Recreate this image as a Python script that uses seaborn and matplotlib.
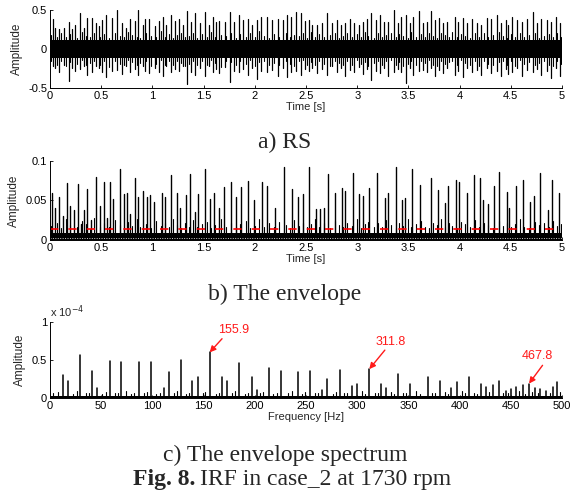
import matplotlib
matplotlib.use("Agg")
import matplotlib.pyplot as plt
import pandas as pd
import seaborn as sns

# ---------------- data ----------------
# a) RS: impulse times [s], positive peaks and negative troughs
rs_time = [0.026, 0.052, 0.088, 0.137, 0.182, 0.215, 0.241, 0.290, 0.332, 0.365,
           0.413, 0.446, 0.475, 0.511, 0.550, 0.605, 0.654, 0.703, 0.745, 0.778,
           0.827, 0.859, 0.905, 0.924, 0.964, 1.022, 1.061, 1.104, 1.136, 1.178,
           1.217, 1.257, 1.296, 1.341, 1.380, 1.419, 1.462, 1.510, 1.549, 1.592,
           1.624, 1.647, 1.706, 1.755, 1.794, 1.842, 1.885, 1.934, 1.973, 2.025,
           2.064, 2.122, 2.168, 2.227, 2.279, 2.318, 2.357, 2.406, 2.454, 2.493,
           2.529, 2.561, 2.610, 2.659, 2.708, 2.757, 2.806, 2.845, 2.877, 2.929,
           2.968, 3.017, 3.059, 3.092, 3.131, 3.180, 3.222, 3.261, 3.300, 3.359,
           3.398, 3.430, 3.473, 3.515, 3.548, 3.603, 3.645, 3.678, 3.717, 3.756,
           3.798, 3.841, 3.880, 3.951, 3.984, 4.036, 4.075, 4.124, 4.173, 4.205,
           4.264, 4.303, 4.362, 4.407, 4.449, 4.472, 4.515, 4.563, 4.612, 4.654,
           4.720, 4.759, 4.798, 4.856, 4.895, 4.938, 4.980]
rs_peak = [0.39, 0.27, 0.26, 0.27, 0.35, 0.26, 0.31, 0.46, 0.27, 0.40,
           0.40, 0.33, 0.29, 0.37, 0.44, 0.40, 0.50, 0.33, 0.27, 0.39,
           0.36, 0.50, 0.31, 0.39, 0.39, 0.29, 0.36, 0.41, 0.31, 0.44,
           0.36, 0.38, 0.31, 0.49, 0.35, 0.46, 0.33, 0.47, 0.31, 0.41,
           0.34, 0.36, 0.35, 0.48, 0.35, 0.44, 0.37, 0.39, 0.31, 0.37,
           0.41, 0.41, 0.37, 0.39, 0.37, 0.44, 0.41, 0.47, 0.46, 0.36,
           0.37, 0.31, 0.31, 0.33, 0.46, 0.33, 0.37, 0.31, 0.33, 0.39,
           0.33, 0.31, 0.35, 0.39, 0.46, 0.37, 0.44, 0.35, 0.35, 0.50,
           0.33, 0.41, 0.44, 0.33, 0.41, 0.49, 0.33, 0.35, 0.49, 0.37,
           0.40, 0.33, 0.35, 0.41, 0.35, 0.40, 0.33, 0.39, 0.33, 0.31,
           0.40, 0.38, 0.44, 0.33, 0.37, 0.31, 0.41, 0.37, 0.35, 0.39,
           0.48, 0.33, 0.39, 0.37, 0.35, 0.41, 0.33]
rs_trough = [-0.22, -0.25, -0.30, -0.21, -0.41, -0.24, -0.28, -0.26, -0.22, -0.33,
             -0.30, -0.22, -0.25, -0.30, -0.36, -0.28, -0.27, -0.32, -0.22, -0.30,
             -0.26, -0.33, -0.22, -0.28, -0.31, -0.24, -0.29, -0.35, -0.22, -0.30,
             -0.26, -0.28, -0.22, -0.45, -0.30, -0.33, -0.25, -0.34, -0.22, -0.29,
             -0.26, -0.31, -0.23, -0.42, -0.28, -0.30, -0.26, -0.33, -0.25, -0.38,
             -0.28, -0.30, -0.27, -0.34, -0.25, -0.36, -0.30, -0.28, -0.33, -0.26,
             -0.28, -0.24, -0.31, -0.26, -0.33, -0.22, -0.29, -0.25, -0.35, -0.27,
             -0.30, -0.23, -0.32, -0.26, -0.40, -0.28, -0.31, -0.24, -0.34, -0.29,
             -0.26, -0.30, -0.44, -0.25, -0.33, -0.28, -0.27, -0.30, -0.24, -0.35,
             -0.27, -0.31, -0.25, -0.33, -0.28, -0.36, -0.24, -0.30, -0.27, -0.33,
             -0.25, -0.31, -0.28, -0.35, -0.26, -0.32, -0.29, -0.25, -0.34, -0.27,
             -0.30, -0.26, -0.33, -0.28, -0.37, -0.25, -0.35]
# smaller bursts between the main impulses [s]
minor_time = [0.010, 0.070, 0.110, 0.160, 0.200, 0.260, 0.310, 0.350, 0.390, 0.430,
              0.490, 0.530, 0.580, 0.630, 0.680, 0.720, 0.760, 0.800, 0.850, 0.880,
              0.940, 0.990, 1.040, 1.080, 1.120, 1.160, 1.200, 1.240, 1.280, 1.320,
              1.360, 1.400, 1.440, 1.480, 1.530, 1.570, 1.610, 1.670, 1.720, 1.770,
              1.820, 1.860, 1.910, 1.950, 2.000, 2.040, 2.090, 2.140, 2.190, 2.240,
              2.300, 2.340, 2.380, 2.430, 2.470, 2.510, 2.550, 2.590, 2.630, 2.680,
              2.730, 2.780, 2.820, 2.860, 2.900, 2.950, 3.000, 3.040, 3.080, 3.110,
              3.160, 3.200, 3.240, 3.280, 3.330, 3.380, 3.410, 3.450, 3.500, 3.530,
              3.570, 3.620, 3.660, 3.700, 3.740, 3.780, 3.820, 3.860, 3.900, 3.930,
              3.970, 4.010, 4.050, 4.100, 4.150, 4.190, 4.240, 4.280, 4.330, 4.380,
              4.420, 4.460, 4.500, 4.540, 4.590, 4.630, 4.680, 4.740, 4.780, 4.820,
              4.870, 4.910, 4.950, 4.990]
rs_minor_peak = [0.18, 0.15, 0.21, 0.16, 0.19, 0.14, 0.22, 0.17, 0.15, 0.20,
                 0.16, 0.19, 0.14, 0.21, 0.17, 0.15, 0.22, 0.18, 0.16, 0.14,
                 0.20, 0.17, 0.15, 0.23, 0.16, 0.19, 0.14, 0.18, 0.21, 0.15,
                 0.17, 0.20, 0.14, 0.19, 0.16, 0.22, 0.15, 0.18, 0.17, 0.21,
                 0.14, 0.19, 0.16, 0.20, 0.15, 0.23, 0.17, 0.14, 0.19, 0.16,
                 0.21, 0.15, 0.18, 0.17, 0.20, 0.14, 0.22, 0.16, 0.19, 0.15,
                 0.18, 0.21, 0.14, 0.17, 0.20, 0.16, 0.19, 0.15, 0.22, 0.17,
                 0.14, 0.20, 0.16, 0.18, 0.21, 0.15, 0.19, 0.17, 0.14, 0.22,
                 0.16, 0.19, 0.15, 0.21, 0.17, 0.14, 0.20, 0.18, 0.16, 0.22,
                 0.15, 0.19, 0.17, 0.14, 0.21, 0.16, 0.20, 0.15, 0.18, 0.22,
                 0.17, 0.14, 0.19, 0.16, 0.21, 0.15, 0.18, 0.20, 0.14, 0.17,
                 0.19, 0.16, 0.21, 0.15]
rs_minor_trough = [-0.16, -0.20, -0.15, -0.22, -0.17, -0.19, -0.14, -0.21, -0.18, -0.15,
                   -0.20, -0.16, -0.23, -0.15, -0.19, -0.21, -0.14, -0.17, -0.20, -0.18,
                   -0.15, -0.22, -0.19, -0.14, -0.21, -0.16, -0.20, -0.15, -0.18, -0.22,
                   -0.19, -0.15, -0.21, -0.16, -0.20, -0.14, -0.18, -0.23, -0.15, -0.17,
                   -0.21, -0.16, -0.19, -0.14, -0.22, -0.17, -0.15, -0.20, -0.18, -0.21,
                   -0.15, -0.19, -0.22, -0.16, -0.14, -0.20, -0.17, -0.21, -0.15, -0.19,
                   -0.22, -0.16, -0.18, -0.20, -0.15, -0.21, -0.14, -0.19, -0.17, -0.22,
                   -0.18, -0.15, -0.21, -0.16, -0.14, -0.20, -0.17, -0.22, -0.19, -0.15,
                   -0.21, -0.16, -0.18, -0.14, -0.20, -0.22, -0.15, -0.19, -0.17, -0.16,
                   -0.21, -0.14, -0.18, -0.20, -0.16, -0.22, -0.15, -0.19, -0.21, -0.17,
                   -0.15, -0.20, -0.16, -0.22, -0.14, -0.19, -0.17, -0.21, -0.18, -0.15,
                   -0.20, -0.22, -0.16, -0.19]
rs_noise = 0.11

# b) envelope: impulse times [s] and heights
env_time = [0.02, 0.05, 0.09, 0.13, 0.17, 0.20, 0.23, 0.27, 0.30, 0.33,
            0.36, 0.40, 0.45, 0.49, 0.53, 0.56, 0.59, 0.62, 0.68, 0.72,
            0.75, 0.78, 0.83, 0.86, 0.91, 0.95, 0.98, 1.02, 1.09, 1.12,
            1.18, 1.24, 1.27, 1.33, 1.37, 1.42, 1.45, 1.51, 1.56, 1.60,
            1.65, 1.70, 1.77, 1.82, 1.87, 1.93, 1.99, 2.07, 2.12, 2.20,
            2.29, 2.36, 2.42, 2.47,
            2.53, 2.60, 2.64, 2.68, 2.71, 2.78, 2.85, 2.88, 2.96, 3.02,
            3.06, 3.12, 3.19, 3.27, 3.30, 3.38, 3.44, 3.47, 3.54, 3.61,
            3.72, 3.79, 3.86, 3.89, 3.96, 3.99, 4.07, 4.14, 4.20, 4.23,
            4.28, 4.34, 4.38, 4.46, 4.48, 4.55, 4.62, 4.69, 4.73, 4.79,
            4.86, 4.90, 4.97]
env_amp = [0.060, 0.041, 0.054, 0.030, 0.072, 0.043, 0.038, 0.071, 0.020, 0.038,
           0.065, 0.025, 0.080, 0.043, 0.074, 0.028, 0.074, 0.052, 0.090, 0.058,
           0.060, 0.033, 0.079, 0.055, 0.062, 0.055, 0.057, 0.048, 0.060, 0.054,
           0.082, 0.060, 0.040, 0.057, 0.083, 0.035, 0.058, 0.090, 0.052, 0.060,
           0.040, 0.067, 0.073, 0.055, 0.067, 0.075, 0.050, 0.073, 0.068, 0.040,
           0.092, 0.065, 0.055, 0.058,
           0.092, 0.039, 0.039, 0.041, 0.083, 0.059, 0.066, 0.062, 0.085, 0.058,
           0.056, 0.066, 0.085, 0.053, 0.060, 0.092, 0.051, 0.053, 0.090, 0.069,
           0.078, 0.063, 0.047, 0.068, 0.076, 0.073, 0.060, 0.082, 0.078, 0.051,
           0.046, 0.068, 0.086, 0.061, 0.041, 0.068, 0.076, 0.048, 0.056, 0.085,
           0.038, 0.076, 0.060]
env_minor_amp = [0.018, 0.022, 0.015, 0.026, 0.019, 0.016, 0.024, 0.020, 0.014, 0.028,
                 0.017, 0.021, 0.016, 0.025, 0.019, 0.015, 0.023, 0.018, 0.027, 0.016,
                 0.020, 0.015, 0.024, 0.018, 0.022, 0.016, 0.026, 0.019, 0.015, 0.021,
                 0.017, 0.025, 0.016, 0.020, 0.023, 0.015, 0.019, 0.027, 0.017, 0.022,
                 0.016, 0.020, 0.024, 0.015, 0.018, 0.026, 0.017, 0.021, 0.016, 0.023,
                 0.019, 0.015, 0.025, 0.018, 0.022, 0.016, 0.020, 0.027, 0.017, 0.021,
                 0.015, 0.024, 0.019, 0.016, 0.022, 0.018, 0.026, 0.015, 0.020, 0.023,
                 0.017, 0.021, 0.016, 0.025, 0.019, 0.015, 0.022, 0.018, 0.027, 0.016,
                 0.020, 0.024, 0.017, 0.015, 0.021, 0.019, 0.026, 0.016, 0.022, 0.018,
                 0.015, 0.023, 0.020, 0.017, 0.025, 0.016, 0.021, 0.019, 0.015, 0.024,
                 0.018, 0.022, 0.016, 0.020, 0.026, 0.017, 0.015, 0.023, 0.019, 0.021,
                 0.016, 0.024, 0.018, 0.020]
env_noise = 0.009
env_threshold = 0.0145

# c) envelope spectrum: peak frequencies [Hz] and amplitudes [x 1e-4]
spec_freq = [12.7, 17.6, 29.6, 41.3, 46.2, 58.3, 69.7, 86.9, 99.0, 111.0,
             115.9, 127.6, 139.0, 144.2, 155.9, 168.0, 172.8, 184.9, 197.0, 201.8,
             213.5, 225.3, 241.9, 254.2, 266.0, 270.8, 282.9, 294.6, 299.5, 311.8,
             323.0, 327.8, 339.8, 351.9, 368.8, 380.5, 392.0, 397.0, 409.0, 421.0,
             426.0, 433.0, 438.0, 445.0, 450.5, 455.4, 461.6, 467.8, 474.0, 479.0,
             484.0, 491.0, 495.0]
spec_amp = [0.30, 0.23, 0.56, 0.36, 0.13, 0.49, 0.47, 0.48, 0.48, 0.13,
            0.34, 0.50, 0.22, 0.27, 0.60, 0.27, 0.23, 0.46, 0.28, 0.11,
            0.39, 0.36, 0.34, 0.36, 0.11, 0.25, 0.37, 0.16, 0.18, 0.38,
            0.18, 0.13, 0.32, 0.18, 0.27, 0.22, 0.13, 0.21, 0.27, 0.18,
            0.14, 0.17, 0.22, 0.09, 0.12, 0.14, 0.17, 0.19, 0.13, 0.12,
            0.09, 0.15, 0.21]
spec_minor_freq = [3, 8, 22, 26, 35, 38, 51, 55, 63, 66,
                   74, 79, 82, 92, 95, 104, 107, 121, 124, 133,
                   136, 149, 151, 162, 165, 178, 181, 190, 193, 205,
                   208, 218, 222, 232, 236, 246, 249, 259, 262, 276,
                   279, 287, 290, 305, 308, 317, 320, 333, 336, 345,
                   348, 357, 361, 373, 376, 386, 389, 402, 405, 414,
                   417, 429, 442, 447, 458, 464, 471, 477, 488, 498]
spec_minor_amp = [0.06, 0.08, 0.05, 0.09, 0.06, 0.07, 0.05, 0.08, 0.06, 0.07,
                  0.09, 0.05, 0.07, 0.06, 0.08, 0.05, 0.07, 0.06, 0.09, 0.05,
                  0.07, 0.06, 0.08, 0.05, 0.07, 0.06, 0.09, 0.05, 0.07, 0.06,
                  0.08, 0.05, 0.07, 0.06, 0.09, 0.05, 0.08, 0.06, 0.07, 0.05,
                  0.08, 0.06, 0.07, 0.09, 0.05, 0.07, 0.06, 0.08, 0.05, 0.07,
                  0.06, 0.09, 0.05, 0.07, 0.06, 0.08, 0.05, 0.09, 0.06, 0.07,
                  0.05, 0.08, 0.06, 0.07, 0.09, 0.05, 0.08, 0.06, 0.07, 0.08]
spec_noise = 0.03
spec_marks = [155.9, 311.8, 467.8]
spec_mark_amp = [0.60, 0.38, 0.19]

rs_ticks = [0, 0.5, 1, 1.5, 2, 2.5, 3, 3.5, 4, 4.5, 5]
rs_ticklabels = ["0", "0.5", "1", "1.5", "2", "2.5", "3", "3.5", "4", "4.5", "5"]
freq_ticks = [0, 50, 100, 150, 200, 250, 300, 350, 400, 450, 500]

# ---------------- styling ----------------
sns.set_theme(style="ticks")
plt.rcParams.update({
    "font.family": ["Liberation Sans", "DejaVu Sans"],
    "font.size": 8,
    "axes.unicode_minus": False,
    "xtick.direction": "in",
    "ytick.direction": "in",
    "xtick.major.size": 2.5,
    "ytick.major.size": 2.5,
    "xtick.major.width": 0.6,
    "ytick.major.width": 0.6,
    "axes.linewidth": 0.7,
    "axes.edgecolor": "black",
    "xtick.color": "black",
    "ytick.color": "black",
    "xtick.major.pad": 2,
    "ytick.major.pad": 2,
})

W, H = 570, 494
fig = plt.figure(figsize=(W / 100, H / 100), dpi=100)


def box(l, t, r, b):
    return [l / W, 1 - b / H, (r - l) / W, (b - t) / H]


def sticks(xs, lo, hi):
    rows = []
    for i, (x, a, b) in enumerate(zip(xs, lo, hi)):
        rows.append((i, x, a))
        rows.append((i, x, b))
    return pd.DataFrame(rows, columns=["u", "x", "y"])


def draw_sticks(ax, xs, lo, hi, lw):
    sns.lineplot(data=sticks(xs, lo, hi), x="x", y="y", units="u",
                 estimator=None, sort=False, color="black", lw=lw, ax=ax, legend=False)


def style_axes(ax):
    sns.despine(ax=ax)
    ax.tick_params(labelsize=8, pad=2)
    ax.set_facecolor("white")


# ---- a) RS ----
ax1 = fig.add_axes(box(50, 10, 562, 88))
ax1.fill_between([0, 5], [-rs_noise, -rs_noise], [rs_noise, rs_noise], color="black", lw=0)
draw_sticks(ax1, minor_time, rs_minor_trough, rs_minor_peak, 0.8)
draw_sticks(ax1, rs_time, rs_trough, rs_peak, 0.9)
ax1.set_xlim(0, 5)
ax1.set_ylim(-0.5, 0.5)
ax1.set_xticks(rs_ticks)
ax1.set_xticklabels(rs_ticklabels)
ax1.set_yticks([-0.5, 0, 0.5])
ax1.set_yticklabels(["-0.5", "0", "0.5"])
ax1.set_xlabel("Time [s]", fontsize=8, labelpad=1)
ax1.set_ylabel("Amplitude", fontsize=8.5, labelpad=4)
style_axes(ax1)

# ---- b) envelope ----
ax2 = fig.add_axes(box(50, 161, 562, 240))
ax2.fill_between([0, 5], [0, 0], [env_noise, env_noise], color="black", lw=0)
draw_sticks(ax2, minor_time, [0] * len(minor_time), env_minor_amp, 0.8)
draw_sticks(ax2, env_time, [0] * len(env_time), env_amp, 1.0)
sns.lineplot(x=[0, 5], y=[0.0025, 0.0025], color="#cfcfcf", lw=0.7,
             linestyle=(0, (1, 1.5)), ax=ax2, legend=False)
sns.lineplot(x=[0, 5], y=[env_threshold, env_threshold], color="#ff0000", lw=1.2,
             linestyle=(0, (5, 6)), ax=ax2, legend=False)
ax2.set_xlim(0, 5)
ax2.set_ylim(0, 0.1)
ax2.set_xticks(rs_ticks)
ax2.set_xticklabels(rs_ticklabels)
ax2.set_yticks([0, 0.05, 0.1])
ax2.set_yticklabels(["0", "0.05", "0.1"])
ax2.set_xlabel("Time [s]", fontsize=8, labelpad=1)
ax2.set_ylabel("Amplitude", fontsize=8.5, labelpad=4)
style_axes(ax2)

# ---- c) envelope spectrum ----
ax3 = fig.add_axes(box(50, 322, 562, 398))
ax3.fill_between([0, 500], [0, 0], [spec_noise, spec_noise], color="black", lw=0)
draw_sticks(ax3, spec_minor_freq, [0] * len(spec_minor_freq), spec_minor_amp, 0.8)
draw_sticks(ax3, spec_freq, [0] * len(spec_freq), spec_amp, 1.1)
ax3.set_xlim(0, 500)
ax3.set_ylim(0, 1)
ax3.set_xticks(freq_ticks)
ax3.set_xticklabels([str(v) for v in freq_ticks])
ax3.set_yticks([0, 0.5, 1])
ax3.set_yticklabels(["0", "0.5", "1"])
ax3.set_xlabel("Frequency [Hz]", fontsize=8, labelpad=1)
ax3.set_ylabel("Amplitude", fontsize=8.5, labelpad=4)
style_axes(ax3)
ax3.text(0.0, 1.03, r"x 10$^{-4}$", transform=ax3.transAxes, fontsize=8, ha="left", va="bottom")

red = "#ff1a1a"
label_pos = [(179, 0.90), (333, 0.74), (476, 0.55)]
arrow_tail = [(168, 0.78), (327, 0.63), (481, 0.43)]
for f, a, (tx, ty), (ax_, ay_) in zip(spec_marks, spec_mark_amp, label_pos, arrow_tail):
    ax3.text(tx, ty, f"{f:.1f}", color=red, fontsize=9, ha="center", va="center")
    ax3.annotate("", xy=(f, a), xytext=(ax_, ay_),
                 arrowprops=dict(arrowstyle="-|>", color=red, lw=1.0,
                                 mutation_scale=9, shrinkA=0, shrinkB=0))

# ---- captions ----
serif = ["Liberation Serif", "DejaVu Serif"]
fs = 17
fig.text(0.5, 1 - 142 / H, "a) RS", ha="center", va="center", fontsize=fs, family=serif)
fig.text(0.5, 1 - 294 / H, "b) The envelope", ha="center", va="center", fontsize=fs, family=serif)
fig.text(0.5, 1 - 455 / H, "c) The envelope spectrum", ha="center", va="center", fontsize=fs, family=serif)
fig.text(195 / W, 1 - 479 / H, "Fig. 8.", ha="right", va="center", fontsize=fs,
         family=serif, weight="bold")
fig.text(200 / W, 1 - 479 / H, "IRF in case_2 at 1730 rpm", ha="left", va="center",
         fontsize=fs, family=serif)

fig.savefig("out.png", dpi=100, facecolor="white")
